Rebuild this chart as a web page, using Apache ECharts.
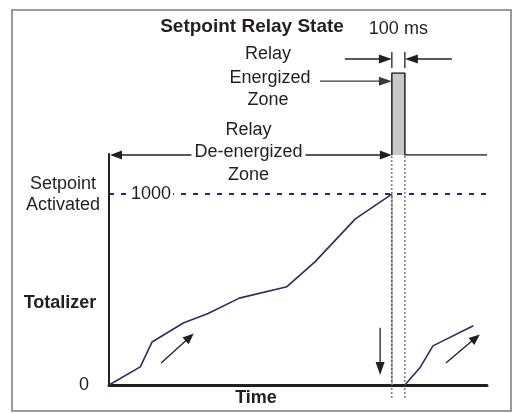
<!DOCTYPE html>
<html>
<head>
<meta charset="utf-8">
<script src="https://cdn.jsdelivr.net/npm/echarts@6/dist/echarts.min.js"></script>
<style>
  html, body { margin: 0; padding: 0; background: #fff; }
  #chart { width: 514px; height: 413px; }
</style>
</head>
<body>
<div id="chart"></div>
<script>
// Totalizer count over time (ms) until the setpoint is reached
const totalTime  = [0, 240, 330, 570, 760, 1000, 1365, 1580, 1890, 2170];
const totalCount = [0, 95, 225, 325, 375, 455, 515, 645, 870, 1000];
// Count after the reset, once the relay pulse is over
const restartTime  = [2270, 2385, 2485, 2795];
const restartCount = [0, 90, 205, 310];
// Setpoint relay state: 0 = de-energized, 1 = energized (100 ms pulse)
const relayTime  = [2170, 2170, 2270, 2270, 2900];
const relayState = [0, 1, 1, 0, 0];
const setpoint = 1000;
const pulseStart = 2170;
const pulseEnd = 2270;
const timeMax = 2900;
const countMax = 1210;
const yTickLabels = ['0'];
// Trend arrows along the count [t0, v0, t1, v1]
const trendArrows = [[400, 115, 650, 270], [2585, 115, 2845, 265]];
const resetArrow = [2080, 300, 2080, 52];

const INK = '#231f20';
const NAVY = '#2b2a6c';
const FONT = '"Liberation Sans", Arial, Helvetica, sans-serif';

const zip = (a, b) => a.map((v, i) => [v, b[i]]);

const chart = echarts.init(document.getElementById('chart'), null, { renderer: 'canvas' });

chart.setOption({
  animation: false,
  backgroundColor: '#fff',
  grid: [
    { left: 109, right: 27, top: 154, bottom: 28, outerBoundsMode: 'none' },
    { left: 109, right: 27, top: 73, height: 82, outerBoundsMode: 'none' }
  ],
  xAxis: [
    {
      gridIndex: 0, type: 'value', min: 0, max: timeMax,
      axisLine: { show: true, onZero: false, lineStyle: { color: INK, width: 3 } },
      axisTick: { show: false }, axisLabel: { show: false }, splitLine: { show: false }
    },
    {
      gridIndex: 1, type: 'value', min: 0, max: timeMax, show: false
    }
  ],
  yAxis: [
    {
      gridIndex: 0, type: 'value', min: 0, max: countMax, interval: countMax,
      axisLine: { show: true, onZero: false, lineStyle: { color: INK, width: 2 } },
      axisTick: { show: false }, splitLine: { show: false },
      axisLabel: {
        margin: 20, color: INK, fontSize: 18, fontFamily: FONT,
        formatter: (v) => (v === 0 ? yTickLabels[0] : '')
      }
    },
    {
      gridIndex: 1, type: 'value', min: 0, max: 1, show: false
    }
  ],
  series: [
    {
      name: 'Reset', type: 'line', xAxisIndex: 0, yAxisIndex: 0,
      data: [[pulseStart, setpoint], [pulseStart, 0]],
      symbol: 'none', z: 1,
      lineStyle: { color: '#b5b5b5', width: 2 }
    },
    {
      name: 'Totalizer', type: 'line', xAxisIndex: 0, yAxisIndex: 0,
      data: zip(totalTime, totalCount),
      symbol: 'none', z: 3,
      lineStyle: { color: NAVY, width: 1.6 },
      markLine: {
        silent: true, symbol: 'none',
        lineStyle: { color: NAVY, width: 1.8, type: [5, 7] },
        label: {
          show: true, position: 'insideStart', distance: 20,
          formatter: String(setpoint), color: INK, fontSize: 18, fontFamily: FONT,
          backgroundColor: '#fff', padding: [0, 2]
        },
        data: [{ yAxis: setpoint }]
      }
    },
    {
      name: 'Totalizer restart', type: 'line', xAxisIndex: 0, yAxisIndex: 0,
      data: zip(restartTime, restartCount),
      symbol: 'none', z: 3,
      lineStyle: { color: NAVY, width: 1.6 }
    },
    {
      name: 'Relay', type: 'line', xAxisIndex: 1, yAxisIndex: 1,
      data: zip(relayTime, relayState),
      symbol: 'none', z: 3,
      lineStyle: { color: INK, width: 1.5 },
      areaStyle: { color: '#c8c8c8', opacity: 1 }
    }
  ]
});

const p0 = (t, v) => chart.convertToPixel({ gridIndex: 0 }, [t, v]);
const p1 = (t, v) => chart.convertToPixel({ gridIndex: 1 }, [t, v]);

function arrow(a, b, color, width, headLen, headHalf) {
  headLen = headLen || 12; headHalf = headHalf || 4;
  const dx = b[0] - a[0], dy = b[1] - a[1];
  const len = Math.hypot(dx, dy);
  const ux = dx / len, uy = dy / len;
  const bx = b[0] - ux * headLen, by = b[1] - uy * headLen;
  return [
    { type: 'line', silent: true, shape: { x1: a[0], y1: a[1], x2: bx + ux, y2: by + uy },
      style: { stroke: color, lineWidth: width } },
    { type: 'polygon', silent: true,
      shape: { points: [[b[0], b[1]], [bx - uy * headHalf, by + ux * headHalf], [bx + uy * headHalf, by - ux * headHalf]] },
      style: { fill: color } }
  ];
}

function text(str, x, y, size, bold, extra) {
  return {
    type: 'text', silent: true, x: x, y: y, z: 10,
    style: Object.assign({
      text: str, fill: INK, align: 'center', verticalAlign: 'middle',
      font: (bold ? 'bold ' : '') + size + 'px ' + FONT
    }, extra || {})
  };
}

const g = [];
// frame
g.push({ type: 'rect', silent: true, shape: { x: 12, y: 10, width: 499, height: 401 },
  style: { fill: 'none', stroke: '#7a7a7a', lineWidth: 1.5 } });

const xs = p0(pulseStart, 0)[0];
const xe = p0(pulseEnd, 0)[0];
const relayLow = p1(pulseStart, 0)[1];
const relayHigh = p1(pulseStart, 1)[1];
const axisY = p0(0, 0)[1];
const axisX = p0(0, 0)[0];

// dotted guides through the relay pulse
[xs, xe].forEach((x) => {
  g.push({ type: 'line', silent: true, z: 5,
    shape: { x1: x, y1: relayLow + 1, x2: x, y2: axisY + 15 },
    style: { stroke: '#3a3a3a', lineWidth: 1, lineDash: [2, 2] } });
});

// 100 ms width marker
const markY = relayHigh - 14;
g.push({ type: 'line', silent: true, shape: { x1: xs, y1: markY - 7, x2: xs, y2: markY + 9 }, style: { stroke: INK, lineWidth: 1.3 } });
g.push({ type: 'line', silent: true, shape: { x1: xe, y1: markY - 7, x2: xe, y2: markY + 9 }, style: { stroke: INK, lineWidth: 1.3 } });
g.push(...arrow([xs - 47, markY], [xs, markY], INK, 1.3, 13, 4.5));
g.push(...arrow([xe + 47, markY], [xe, markY], INK, 1.3, 13, 4.5));
g.push(text('100 ms', (xs + xe) / 2, 29, 18, false));

// energized zone callout
const enY = p1(pulseStart, 0.9)[1];
g.push(...arrow([320, enY], [xs, enY], '#3a3a3a', 1.3, 13, 4.5));
g.push(text('Relay', 268, 54, 18, false));
g.push(text('Energized', 270, 78, 18, false));
g.push(text('Zone', 268, 100, 18, false));

// de-energized zone span
const midX = (axisX + xs) / 2;
g.push(...arrow([midX, relayLow], [axisX + 1, relayLow], INK, 1.3, 12, 4.5));
g.push(...arrow([midX, relayLow], [xs, relayLow], INK, 1.3, 12, 4.5));
g.push(text('Relay', midX - 2, relayLow - 25, 18, false));
g.push(text('De-energized', midX - 2, relayLow - 3, 18, false, { backgroundColor: '#fff', padding: [1, 3] }));
g.push(text('Zone', midX - 2, relayLow + 20, 18, false));

// trend and reset arrows
trendArrows.forEach((a) => g.push(...arrow(p0(a[0], a[1]), p0(a[2], a[3]), INK, 1.3, 11, 4.5)));
g.push(...arrow(p0(resetArrow[0], resetArrow[1]), p0(resetArrow[2], resetArrow[3]), INK, 1.3, 13, 4.5));

// titles and side labels
g.push(text('Setpoint Relay State', 252, 27, 19, true));
g.push(text('Setpoint', 63, 184, 18, false));
g.push(text('Activated', 63, 205, 18, false));
g.push(text('Totalizer', 60, 303, 18, true));
g.push(text('Time', 256, 398, 18, true));

chart.setOption({ graphic: { elements: g } });
</script>
</body>
</html>
